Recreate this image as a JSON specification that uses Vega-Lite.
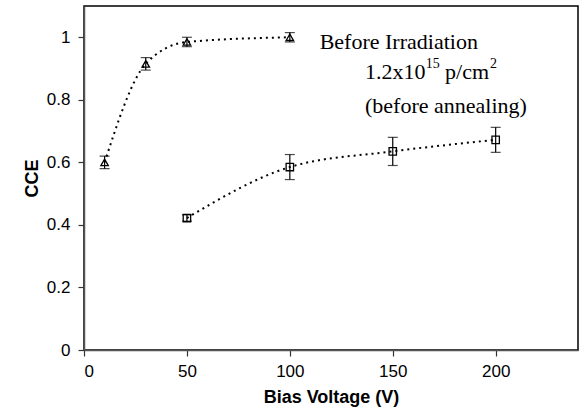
{
  "$schema": "https://vega.github.io/schema/vega-lite/v6.json",
  "width": 494,
  "height": 344,
  "autosize": {"type": "none"},
  "padding": {"left": 84, "top": 6, "right": 2, "bottom": 66},
  "background": "white",
  "config": {
    "view": {"stroke": "#000000", "strokeWidth": 1.5},
    "axis": {
      "labelFont": "Liberation Sans",
      "labelFontSize": 17,
      "labelColor": "#000000",
      "titleFont": "Liberation Sans",
      "titleFontSize": 18,
      "titleFontWeight": "bold",
      "titleColor": "#000000",
      "domainColor": "#555555",
      "domainWidth": 1.5,
      "tickColor": "#333333",
      "tickWidth": 1.2,
      "tickSize": 6,
      "grid": false
    }
  },
  "datasets": {
    "pts": [
      {"series": "before", "v": 10, "cce": 0.60, "lo": 0.58, "hi": 0.62},
      {"series": "before", "v": 30, "cce": 0.915, "lo": 0.895, "hi": 0.935},
      {"series": "before", "v": 50, "cce": 0.985, "lo": 0.97, "hi": 1.0},
      {"series": "before", "v": 100, "cce": 1.0, "lo": 0.985, "hi": 1.015},
      {"series": "irr", "v": 50, "cce": 0.422, "lo": 0.412, "hi": 0.432},
      {"series": "irr", "v": 100, "cce": 0.585, "lo": 0.545, "hi": 0.625},
      {"series": "irr", "v": 150, "cce": 0.635, "lo": 0.59, "hi": 0.68},
      {"series": "irr", "v": 200, "cce": 0.672, "lo": 0.632, "hi": 0.712}
    ],
    "labels": [
      {"t": "Before Irradiation", "x": 114.5, "y": 0.985},
      {"t": "1.2x10", "x": 136.5, "y": 0.888},
      {"t": "p/cm", "x": 175.4, "y": 0.888},
      {"t": "(before annealing)", "x": 136.5, "y": 0.78}
    ],
    "sups": [
      {"t": "15", "x": 166.0, "y": 0.888},
      {"t": "2", "x": 197.3, "y": 0.888}
    ]
  },
  "layer": [
    {
      "data": {"name": "pts"},
      "mark": {"type": "line", "interpolate": "monotone", "strokeDash": [2, 4], "strokeWidth": 2, "color": "#000000"},
      "encoding": {
        "x": {"field": "v", "type": "quantitative", "scale": {"domain": [0, 240], "nice": false}, "axis": {"values": [0, 50, 100, 150, 200], "title": "Bias Voltage (V)", "labelPadding": 7, "titlePadding": 9}},
        "y": {"field": "cce", "type": "quantitative", "scale": {"domain": [0, 1.1], "nice": false}, "axis": {"values": [0, 0.2, 0.4, 0.6, 0.8, 1], "format": "~g", "title": "CCE", "labelPadding": 8, "titlePadding": 5}},
        "detail": {"field": "series"}
      }
    },
    {
      "data": {"name": "pts"},
      "mark": {"type": "rule", "color": "#000000", "strokeWidth": 1.2},
      "encoding": {
        "x": {"field": "v", "type": "quantitative"},
        "y": {"field": "lo", "type": "quantitative"},
        "y2": {"field": "hi"}
      }
    },
    {
      "data": {"name": "pts"},
      "mark": {"type": "tick", "color": "#000000", "size": 10, "thickness": 1.2, "orient": "horizontal"},
      "encoding": {
        "x": {"field": "v", "type": "quantitative"},
        "y": {"field": "lo", "type": "quantitative"}
      }
    },
    {
      "data": {"name": "pts"},
      "mark": {"type": "tick", "color": "#000000", "size": 10, "thickness": 1.2, "orient": "horizontal"},
      "encoding": {
        "x": {"field": "v", "type": "quantitative"},
        "y": {"field": "hi", "type": "quantitative"}
      }
    },
    {
      "data": {"name": "pts"},
      "mark": {"type": "point", "filled": false, "color": "#000000", "strokeWidth": 1.3, "opacity": 1},
      "encoding": {
        "x": {"field": "v", "type": "quantitative"},
        "y": {"field": "cce", "type": "quantitative"},
        "shape": {"field": "series", "type": "nominal", "scale": {"domain": ["before", "irr"], "range": ["triangle-up", "square"]}, "legend": null},
        "size": {"value": 55}
      }
    },
    {
      "data": {"name": "labels"},
      "mark": {"type": "text", "font": "Liberation Serif", "fontSize": 22, "align": "left", "baseline": "middle", "color": "#000000"},
      "encoding": {
        "x": {"field": "x", "type": "quantitative"},
        "y": {"field": "y", "type": "quantitative"},
        "text": {"field": "t"}
      }
    },
    {
      "data": {"name": "sups"},
      "mark": {"type": "text", "font": "Liberation Serif", "fontSize": 14, "align": "left", "baseline": "middle", "dy": -8, "color": "#000000"},
      "encoding": {
        "x": {"field": "x", "type": "quantitative"},
        "y": {"field": "y", "type": "quantitative"},
        "text": {"field": "t"}
      }
    }
  ]
}
